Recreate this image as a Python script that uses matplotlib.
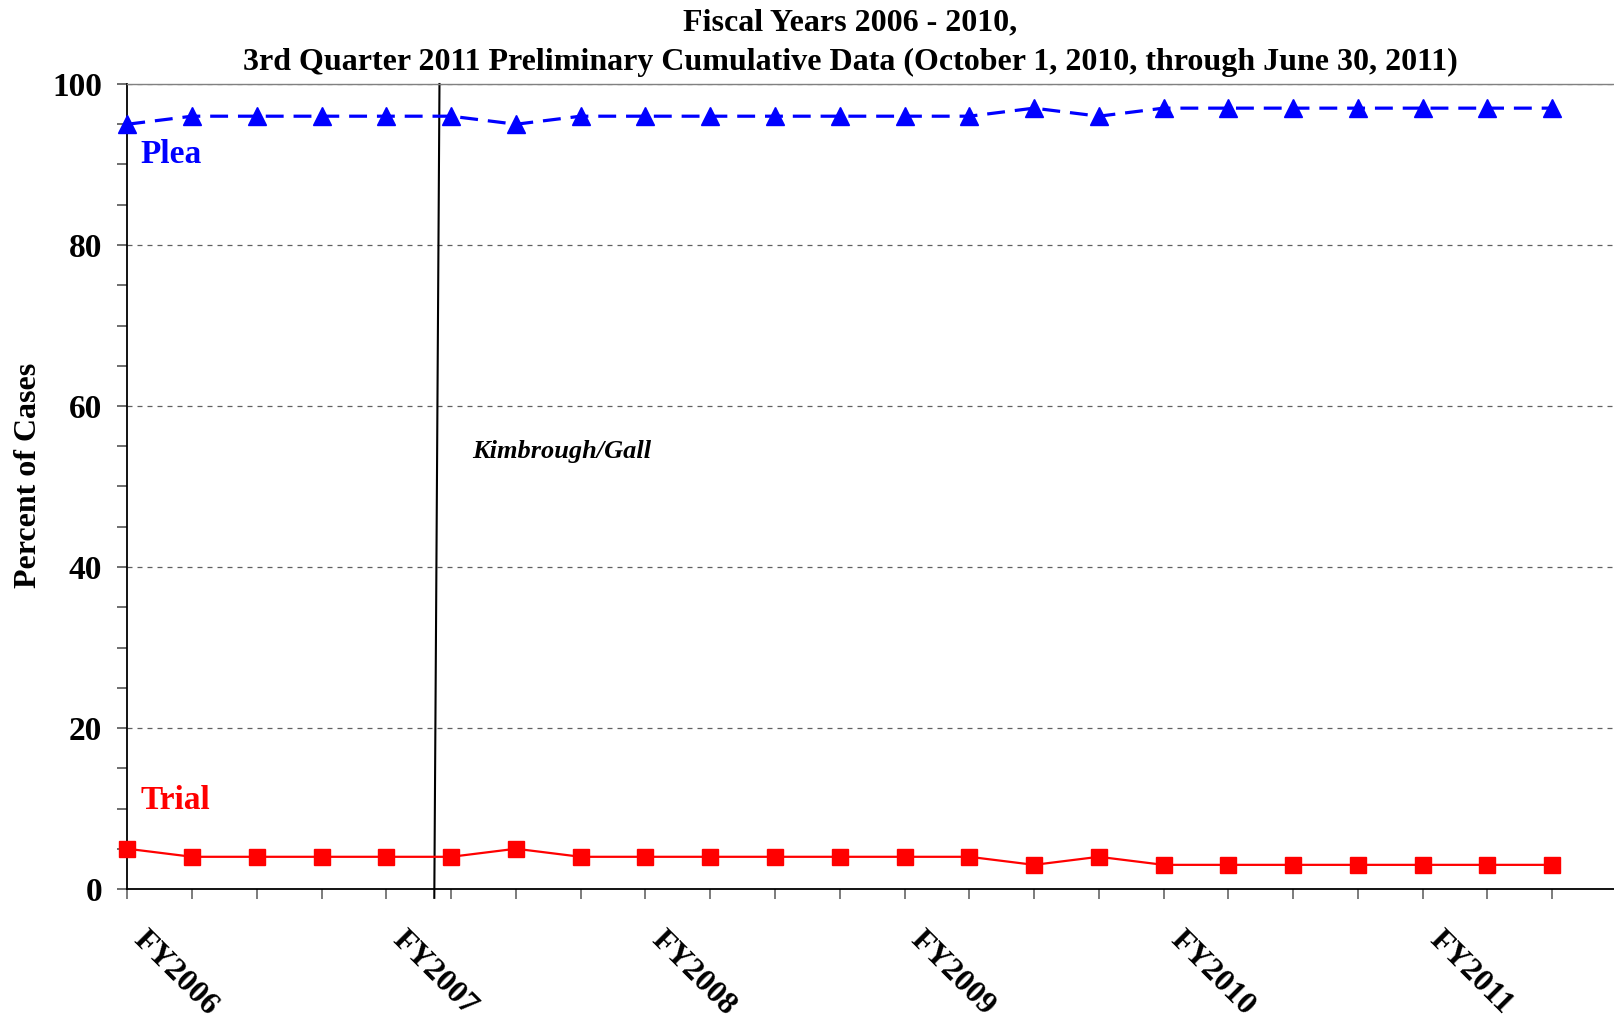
import matplotlib
matplotlib.use("Agg")
import matplotlib.pyplot as plt
from matplotlib.transforms import ScaledTranslation
import numpy as np

plt.rcParams['font.family'] = ['Liberation Serif', 'DejaVu Serif']

quarters = list(range(23))
tick_labels = ["FY2006", "", "", "", "FY2007", "", "", "", "FY2008", "", "", "",
               "FY2009", "", "", "", "FY2010", "", "", "", "FY2011", "", ""]
plea = [95, 96, 96, 96, 96, 96, 95, 96, 96, 96, 96, 96, 96, 96, 97, 96, 97, 97, 97, 97, 97, 97, 97]
trial = [5, 4, 4, 4, 4, 4, 5, 4, 4, 4, 4, 4, 4, 4, 3, 4, 3, 3, 3, 3, 3, 3, 3]
event_label = "Kimbrough/Gall"
title1 = "Fiscal Years 2006 - 2010,"
title2 = "3rd Quarter 2011 Preliminary Cumulative Data (October 1, 2010, through June 30, 2011)"

W, H = 1615, 1025
fig = plt.figure(figsize=(W / 100, H / 100), dpi=100)
ax = fig.add_axes([127.3 / W, 1 - 889 / H, 1 - 127.3 / W, (889 - 84) / H])

ax.plot(quarters, plea, color='#0000ff', lw=2.3, ls=(0, (5.6, 3.1)), marker='^',
        markersize=13, clip_on=False, zorder=3)
ax.plot(quarters, trial, color='#ff0000', lw=1.6, marker='s', markersize=12,
        clip_on=False, zorder=3)

ax.set_xlim(0, 22.97)
ax.set_ylim(0, 100)
ax.set_yticks([0, 20, 40, 60, 80, 100])
ax.set_yticks(np.arange(0, 101, 5), minor=True)
ax.set_xticks(quarters)
ax.set_xticklabels(tick_labels)

for y in [20, 40, 60, 80, 100]:
    ax.axhline(y, color='#606060', lw=0.9, ls=(0, (4, 4)), zorder=1)

ax.spines['right'].set_visible(False)
ax.spines['top'].set_color('#808080')
ax.spines['top'].set_linewidth(1.0)
ax.spines['left'].set_linewidth(1.3)
ax.spines['bottom'].set_linewidth(1.3)

ax.tick_params(axis='y', which='both', direction='out', length=7.2, width=1.2,
               color='#555555', labelsize=24, pad=11)
ax.tick_params(axis='x', which='major', direction='out', length=7.2, width=1.2,
               color='#666666', labelsize=23, pad=19)
for lab in ax.get_yticklabels():
    lab.set_fontweight('bold')
off = ScaledTranslation(0.21, 0, fig.dpi_scale_trans)
for lab in ax.get_xticklabels():
    lab.set_fontweight('bold')
    lab.set_rotation(-45)
    lab.set_ha('left')
    lab.set_va('top')
    lab.set_rotation_mode('anchor')
    lab.set_transform(lab.get_transform() + off)

fig.text(28.6 / W, 1 - 475 / H, "Percent of Cases", fontsize=23, fontweight='bold',
         rotation=90, ha='center', va='center')

# event line (slightly slanted as in the original)
ax.plot([4.82, 4.74], [100, -1.1], color='black', lw=1.5, clip_on=False, zorder=2)
ax.text(5.32, 54.3, event_label, fontsize=19, fontweight='bold', style='italic',
        ha='left', va='center')

ax.text(0.21, 91.2, "Plea", color='#0000ff', fontsize=24, fontweight='bold',
        ha='left', va='center')
ax.text(0.21, 11.0, "Trial", color='#ff0000', fontsize=24, fontweight='bold',
        ha='left', va='center')

fig.text(850 / W, 1 - 23 / H, title1, fontsize=23, fontweight='bold', ha='center', va='center')
fig.text(850 / W, 1 - 62.5 / H, title2, fontsize=23, fontweight='bold', ha='center', va='center')

fig.savefig("out.png", dpi=100)
